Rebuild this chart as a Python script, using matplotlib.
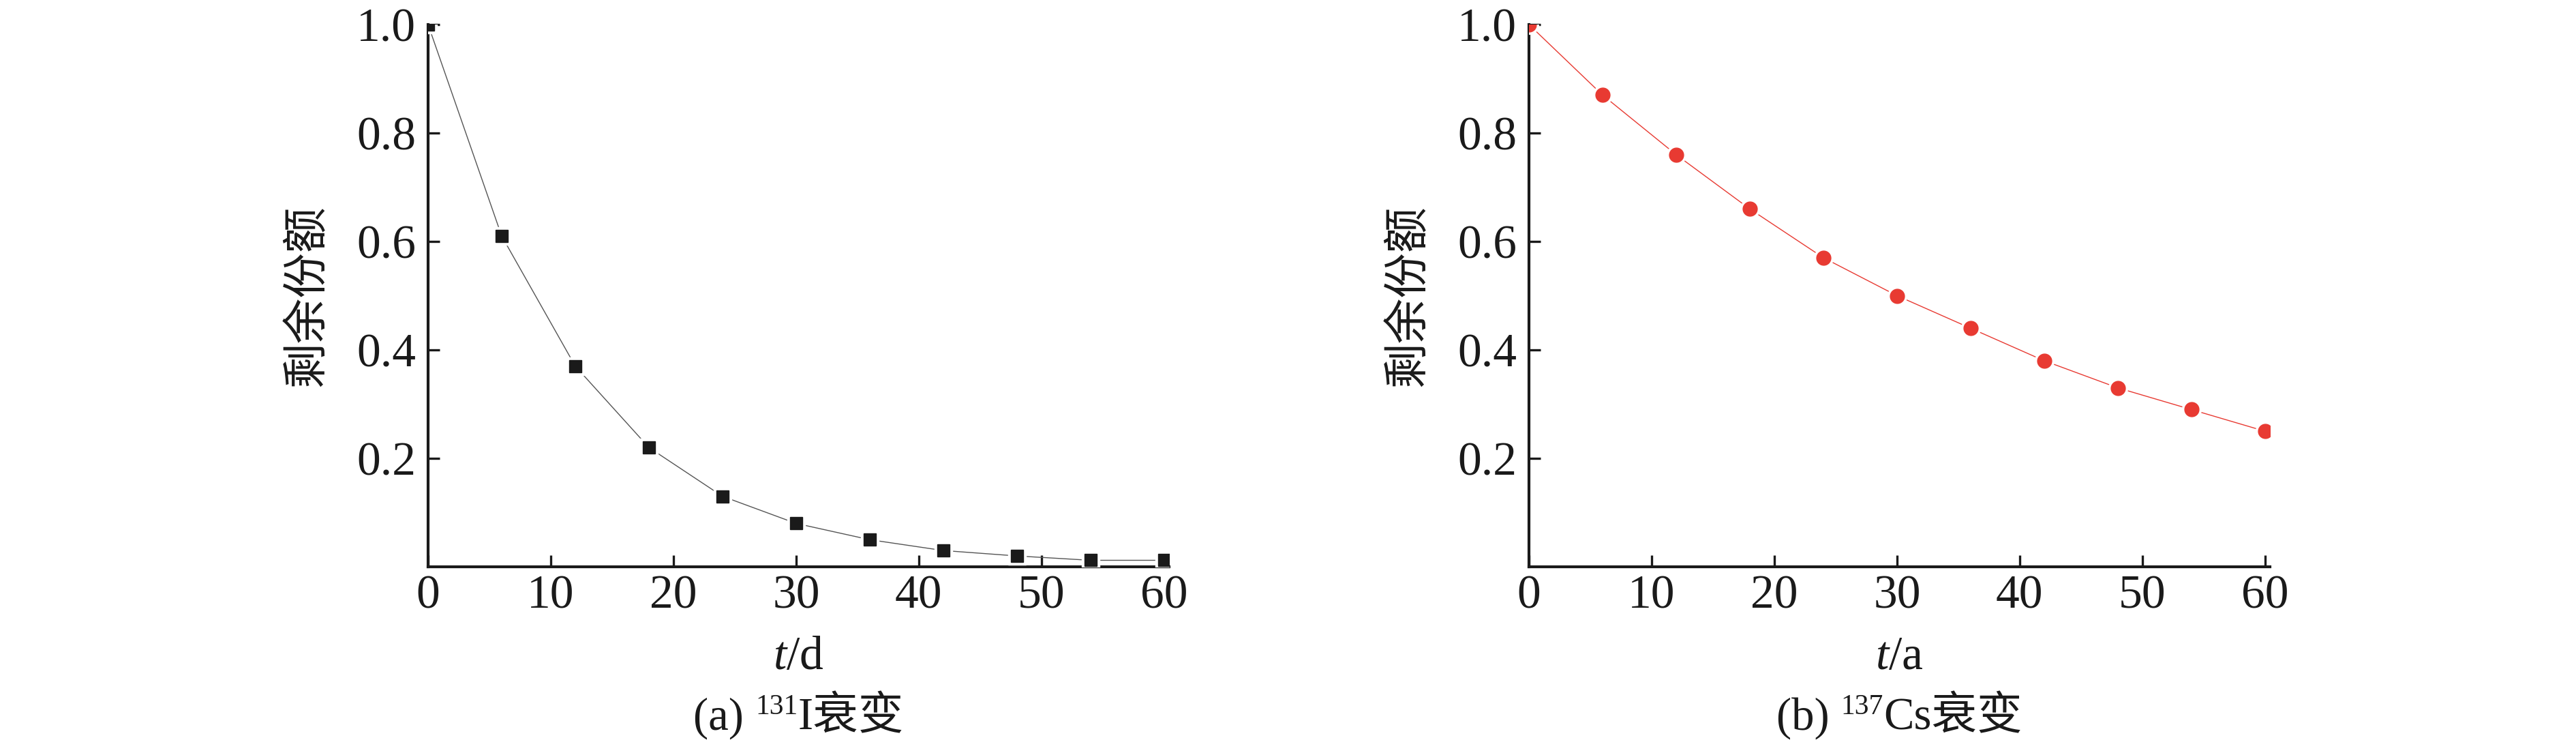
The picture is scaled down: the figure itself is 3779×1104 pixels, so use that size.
import matplotlib
matplotlib.use('Agg')
import matplotlib.pyplot as plt

plt.rcParams['font.family'] = ['Liberation Serif', 'Noto Sans CJK SC']
plt.rcParams['mathtext.fontset'] = 'custom'
plt.rcParams['mathtext.rm'] = 'Liberation Serif'
plt.rcParams['mathtext.it'] = 'Liberation Serif:italic'

# time points (same for both panels)
t = [0, 6, 12, 18, 24, 30, 36, 42, 48, 54, 60]
# remaining fraction
i131 = [1.0, 0.61, 0.37, 0.22, 0.13, 0.08, 0.05, 0.03, 0.02, 0.012, 0.012]
cs137 = [1.0, 0.87, 0.76, 0.66, 0.57, 0.50, 0.44, 0.38, 0.33, 0.29, 0.25]

xticks = [0, 10, 20, 30, 40, 50, 60]
yticks = [0.2, 0.4, 0.6, 0.8, 1.0]
ylabel = '剩余份额'

ink = '#1a1a1a'
red = '#e83a32'

W, H = 3780, 1104
fig = plt.figure(figsize=(W / 100, H / 100), dpi=100)

ax_bottom = 1 - 831 / H
ax_h = (831 - 36) / H
ax_w = 1087 / W
ax1 = fig.add_axes([628 / W, ax_bottom, ax_w, ax_h])
ax2 = fig.add_axes([2243 / W, ax_bottom, ax_w, ax_h])


def style(ax, unit, tag, iso, elem):
    ax.set_xlim(0, 60.4)
    ax.set_ylim(0, 1.0)
    ax.set_xticks(xticks)
    ax.set_yticks(yticks)
    ax.set_yticklabels(['%.1f' % v for v in yticks])
    for s in ['top', 'right']:
        ax.spines[s].set_visible(False)
    for s in ['left', 'bottom']:
        ax.spines[s].set_linewidth(3.0)
        ax.spines[s].set_color(ink)
    ax.tick_params(direction='in', length=12, width=2.4, color=ink,
                   labelsize=50, labelcolor=ink)
    ax.tick_params(axis='x', pad=9)
    ax.tick_params(axis='y', pad=13)
    ax.set_ylabel(ylabel, fontsize=48, color=ink, labelpad=28,
                  family=['Noto Sans CJK SC'])
    ax.text(0.5, -0.167, '$t$/' + unit, transform=ax.transAxes, fontsize=50,
            ha='center', va='center', color=ink)

    # caption built from pieces so the superscript can sit high
    cap_y = -0.279
    t0 = ax.text(0.5, cap_y, tag + ' ', transform=ax.transAxes, fontsize=48,
                 ha='left', va='center', color=ink)
    sup = ax.annotate(iso, xy=(1, 1), xycoords=t0, xytext=(0, 3),
                      textcoords='offset points', fontsize=30,
                      ha='left', va='top', color=ink)
    t2 = ax.annotate(elem + '衰变', xy=(1, 0), xycoords=(sup, t0),
                     fontsize=48, ha='left', va='bottom', color=ink)
    return t0, sup, t2


cap1 = style(ax1, 'd', '(a)', '131', 'I')
cap2 = style(ax2, 'a', '(b)', '137', 'Cs')

# left: grey line with black squares
ax1.plot(t, i131, color='#555555', lw=1.0, zorder=2)
ax1.plot(t, i131, ls='none', marker='s', ms=19, color='white', zorder=3)
ax1.plot(t, i131, ls='none', marker='s', ms=13.5, color=ink, zorder=4)

# right: red line with red dots
ax2.plot(t, cs137, color=red, lw=1.0, zorder=2)
ax2.plot(t, cs137, ls='none', marker='o', ms=20, color='white', zorder=3)
ax2.plot(t, cs137, ls='none', marker='o', ms=15, color=red, zorder=4)

# centre the captions under their axes
fig.canvas.draw()
r = fig.canvas.get_renderer()
for ax, parts in [(ax1, cap1), (ax2, cap2)]:
    x0 = parts[0].get_window_extent(r).x0
    x1 = parts[2].get_window_extent(r).x1
    w = (x1 - x0) / ax.bbox.width
    parts[0].set_x(0.5 - w / 2)

fig.savefig('out.png', dpi=100)
